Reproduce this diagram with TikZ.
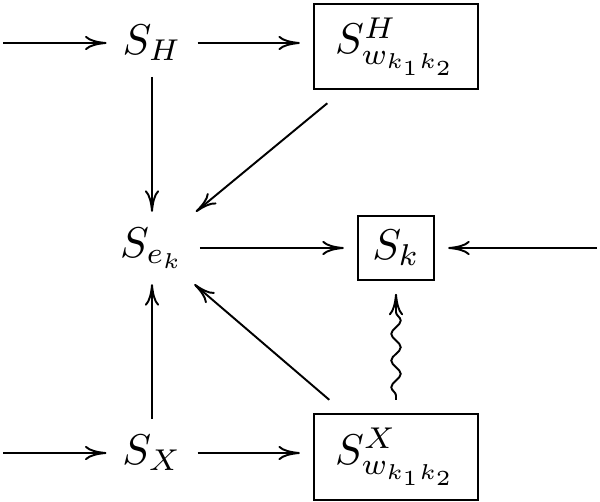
\documentclass[tikz,border=0pt]{standalone}
\usepackage{amsmath}
\usepackage{tikz}
\usetikzlibrary{arrows.meta, decorations.pathmorphing}

\begin{document}
\begin{tikzpicture}[x=0.2326pt, y=-0.2326pt, line width=0.45pt,
    >={Computer Modern Rightarrow[length=5pt,width=3.3pt]},
    term/.style={inner sep=3.5pt},
    framed/.style={draw, inner sep=2pt, outer sep=3.3pt},
    wavy/.style={decorate, decoration={snake, amplitude=1.1pt, segment length=6.2pt, pre length=1pt, post length=4pt}}]
    \useasboundingbox (0,0) rectangle (600,502);
    % left column
    \node[term] (sH) at (152,43) {$S_H$};
    \node[term] (sek) at (152,248) {$S_{e_k}$};
    \node[term] (sX) at (152,453) {$S_X$};
    % right column
    \node[framed, minimum width=38.1pt, minimum height=19.8pt] (wH) at (396,46.5) {$S^H_{w_{k_1k_2}}$};
    \node[framed, minimum width=17.7pt, minimum height=14.7pt] (sk) at (396,248) {$S_k$};
    \node[framed, minimum width=38.1pt, minimum height=20pt] (wX) at (396,457) {$S^X_{w_{k_1k_2}}$};
    % free ends
    \coordinate (inH) at (3,43);
    \coordinate (inX) at (3,453);
    \coordinate (inK) at (597,248);

    \draw[->] (inH) -- (sH);
    \draw[->] (inX) -- (sX);
    \draw[->] (inK) -- (sk);
    \draw[->] (sH) -- (sH -| wH.west);
    \draw[->] (sX) -- (sX -| wX.west);
    \draw[->] (sek) -- (sk);
    \draw[->] (sH) -- (sek);
    \draw[->] (sX) -- (sek);
    \draw[->] (wH) -- (sek);
    \draw[->] (wX) -- (sek);
    \draw[->, wavy] (wX) -- (sk);
\end{tikzpicture}
\end{document}
